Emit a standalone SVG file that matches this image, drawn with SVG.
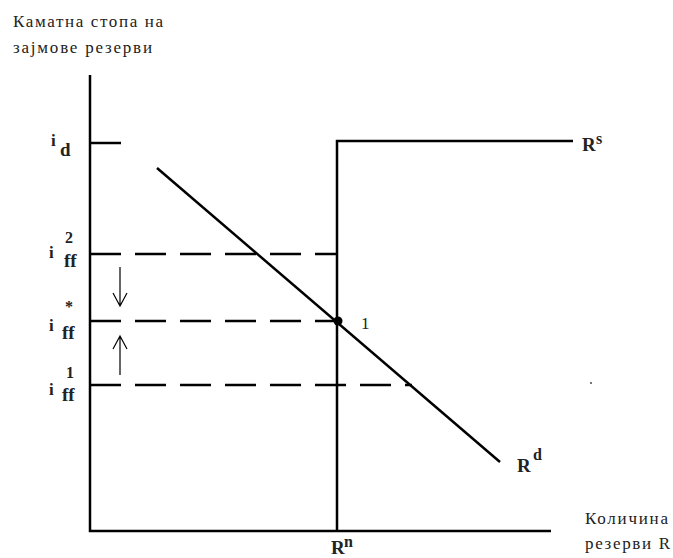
<svg xmlns="http://www.w3.org/2000/svg" width="673" height="558" viewBox="0 0 673 558">
<style>
.ln{stroke:#000;stroke-width:2.5;fill:none}
.ds{stroke:#000;stroke-width:2.5;fill:none;stroke-dasharray:31 14}
.ar{stroke:#000;stroke-width:1.2;fill:none}
.t{font-family:"Liberation Serif","Times New Roman",serif;font-size:17px;fill:#222}
.m{font-family:"Liberation Serif","Times New Roman",serif;font-size:19px;font-weight:bold;fill:#222}
.i{font-family:"Liberation Serif","Times New Roman",serif;font-size:17px;font-weight:bold;fill:#222}
.s{font-family:"Liberation Serif","Times New Roman",serif;font-size:16px;font-weight:bold;fill:#222}
.f{font-family:"Liberation Serif","Times New Roman",serif;font-size:19px;font-weight:bold;fill:#222}
</style>
<rect width="673" height="558" fill="#fff"/>
<g id="axes">
<path class="ln" d="M90,75 V531 H551"/>
<text class="t" x="13" y="27" textLength="150">Каматна стопа на</text>
<text class="t" x="13" y="53" textLength="139">зајмове резерви</text>
<text class="t" x="585" y="524" textLength="83">Количина</text>
<text class="t" x="585" y="549" textLength="85">резерви R</text>
</g>
<g id="id-level">
<path class="ln" d="M90,143 H121"/>
<text class="i" x="51" y="146">i</text><text class="f" x="60" y="156">d</text>
</g>
<g id="iff2">
<path class="ds" d="M90,254 H337"/>
<text class="i" x="49" y="258">i</text><text class="s" x="65" y="243">2</text><text class="f" x="64" y="267">ff</text>
</g>
<g id="iffstar">
<path class="ds" d="M90,321 H337"/>
<text class="i" x="49" y="331">i</text><text class="s" x="65" y="312">*</text><text class="f" x="62" y="339">ff</text>
</g>
<g id="iff1">
<path class="ds" d="M90,385 H412"/>
<text class="i" x="49" y="395">i</text><text class="s" x="66" y="378">1</text><text class="f" x="62" y="401">ff</text>
</g>
<g id="Rs">
<path class="ln" d="M337,531 V141 H573"/>
<text class="m" x="582" y="151">R</text><text class="s" x="596" y="144">s</text>
<text class="m" x="331" y="554">R</text><text class="s" x="344" y="547">n</text>
</g>
<g id="Rd">
<path class="ln" d="M157,168 L500,462"/>
<text class="m" x="517" y="472">R</text><text class="s" x="533" y="460">d</text>
</g>
<g id="point1">
<circle cx="338" cy="321" r="4.5" fill="#000"/>
<text class="t" x="361" y="329">1</text>
</g>
<g id="connectors">
<path class="ar" d="M120,267 V306 M113,293 L120,306 L127,293"/>
<path class="ar" d="M120,375 V336 M113,349 L120,336 L127,349"/>
</g>
<rect x="590" y="382" width="2" height="2" fill="#777"/>
</svg>
